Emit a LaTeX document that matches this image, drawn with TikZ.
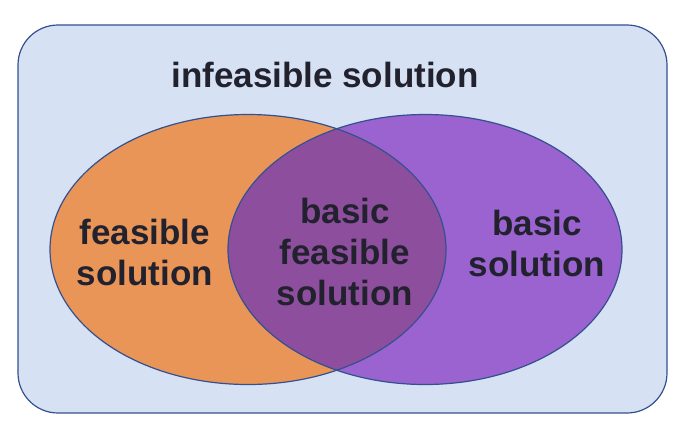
\documentclass[tikz,border=0pt]{standalone}
\usepackage{fontspec}
\setmainfont{Liberation Sans}
\begin{document}
\begin{tikzpicture}[x=1pt,y=-1pt,
  lbl/.style={font=\bfseries\fontsize{35}{41}\selectfont, text=txtc, align=center, inner sep=0pt},
  edge/.style={draw=bordc, line width=1.2pt}]
\definecolor{bgc}{HTML}{D6E1F4}
\definecolor{bordc}{HTML}{34508F}
\definecolor{orc}{HTML}{EA9558}
\definecolor{puc}{HTML}{9A63CF}
\definecolor{ovc}{HTML}{8E4E9E}
\definecolor{txtc}{HTML}{22222E}
\useasboundingbox (0,0) rectangle (699,437);
\node[edge, fill=bgc, rounded corners=40pt, minimum width=649pt, minimum height=388pt, inner sep=0pt] (outer) at (342.5,219) {};
\fill[orc] (248,249.5) ellipse [x radius=198, y radius=135];
\fill[puc] (425,249.5) ellipse [x radius=197, y radius=135];
\begin{scope}
  \clip (425,249.5) ellipse [x radius=197, y radius=135];
  \fill[ovc] (248,249.5) ellipse [x radius=198, y radius=135];
\end{scope}
\draw[edge] (248,249.5) ellipse [x radius=198, y radius=135];
\draw[edge] (425,249.5) ellipse [x radius=197, y radius=135];
\node[lbl] (inf) at (325,75) {infeasible solution};
\node[lbl] (fea) at (145,252) {feasible\\solution};
\node[lbl] (bfs) at (345,252) {basic\\feasible\\solution};
\node[lbl] (bas) at (537,243) {basic\\solution};
\end{tikzpicture}
\end{document}
